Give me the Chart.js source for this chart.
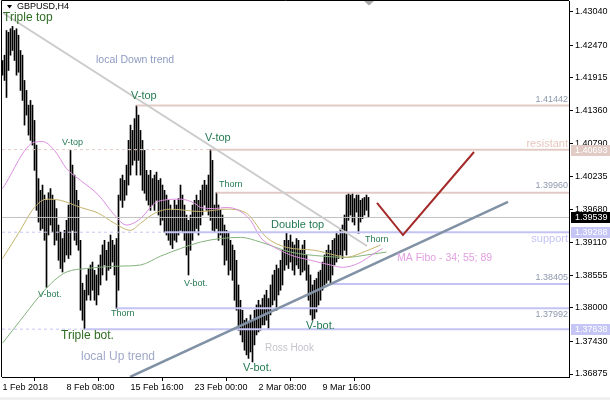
<!DOCTYPE html>
<html>
<head>
<meta charset="utf-8">
<script src="https://cdn.jsdelivr.net/npm/chart.js@4.4.1/dist/chart.umd.min.js"></script>
<style>
  html, body { margin: 0; padding: 0; background: #fff; }
  canvas { display: block; }
</style>
</head>
<body>
<canvas id="chart" width="610" height="400"></canvas>
<script>
// GBPUSD H4 bars, bar 0 = 1 Feb 2018 00:00
var highs = [
  1.4221, 1.4230, 1.4272, 1.4269, 1.4275, 1.4279, 1.4272, 1.4275, 1.4264, 1.4238,
  1.4230, 1.4187, 1.4170, 1.4145, 1.4153, 1.4145, 1.4119, 1.4077, 1.4020, 1.4000,
  1.4009, 1.3992, 1.3983, 1.3996, 1.4003, 1.3992, 1.3983, 1.3969, 1.3941, 1.3929,
  1.3918, 1.3932, 1.3949, 1.3975, 1.4068, 1.4043, 1.4026, 1.4000, 1.3983, 1.3915,
  1.3842, 1.3830, 1.3856, 1.3867, 1.3873, 1.3878, 1.3864, 1.3856, 1.3873, 1.3890,
  1.3907, 1.3915, 1.3898, 1.3912, 1.3924, 1.3915, 1.3907, 1.3918, 1.3992, 1.4020,
  1.4026, 1.4017, 1.4043, 1.4085, 1.4111, 1.4102, 1.4122, 1.41442, 1.4128, 1.4102,
  1.4085, 1.4068, 1.4034, 1.4026, 1.4034, 1.4020, 1.4026, 1.4031, 1.4017, 1.4020,
  1.4009, 1.4000, 1.3992, 1.3983, 1.3975, 1.3966, 1.3983, 1.3975, 1.3986, 1.4009,
  1.3992, 1.3975, 1.3958, 1.3949, 1.3958, 1.3975, 1.3983, 1.3992, 1.3983, 1.4000,
  1.4009, 1.4017, 1.4009, 1.4026, 1.40693, 1.4051, 1.3975, 1.39960, 1.3975, 1.3966,
  1.3958, 1.3941, 1.3932, 1.3929, 1.3915, 1.3907, 1.3898, 1.3881, 1.3839, 1.3813,
  1.3796, 1.3779, 1.3782, 1.3776, 1.3788, 1.3779, 1.3796, 1.3805, 1.3813, 1.3805,
  1.3816, 1.3822, 1.3830, 1.3816, 1.3839, 1.3856, 1.3864, 1.3873, 1.3867, 1.3881,
  1.3898, 1.3915, 1.3927, 1.3915, 1.3924, 1.3912, 1.3907, 1.3918, 1.3915, 1.3898,
  1.3907, 1.3915, 1.3890, 1.3873, 1.3856, 1.3839, 1.3847, 1.3850, 1.3861, 1.3864,
  1.3878, 1.3890, 1.3898, 1.3907, 1.3898, 1.3915, 1.3918, 1.3929, 1.3924, 1.3935,
  1.3941, 1.3958, 1.3992, 1.3995, 1.3992, 1.3996, 1.3986, 1.3992, 1.3992, 1.3983,
  1.3986, 1.3988, 1.3992, 1.3988
];
var lows = [
  1.4196, 1.4187, 1.4158, 1.4204, 1.4230, 1.4238, 1.4221, 1.4196, 1.4201, 1.4170,
  1.4153, 1.4111, 1.4128, 1.4094, 1.4085, 1.4077, 1.4034, 1.3966, 1.3946, 1.3932,
  1.3935, 1.3915, 1.3835, 1.3924, 1.3941, 1.3929, 1.3907, 1.3915, 1.3881, 1.3867,
  1.3861, 1.3878, 1.3890, 1.3884, 1.3890, 1.3932, 1.3915, 1.3907, 1.3898, 1.3796,
  1.3779, 1.37638, 1.3813, 1.3822, 1.3813, 1.3830, 1.3813, 1.3805, 1.3822, 1.3839,
  1.3856, 1.3873, 1.3847, 1.3864, 1.3867, 1.3878, 1.3856, 1.37992, 1.3830, 1.3983,
  1.3971, 1.3983, 1.3992, 1.4009, 1.4026, 1.4043, 1.4051, 1.4026, 1.4051, 1.4026,
  1.4000, 1.3995, 1.3983, 1.3975, 1.3966, 1.3975, 1.3966, 1.3983, 1.3958, 1.3941,
  1.3949, 1.39288, 1.3924, 1.3915, 1.3907, 1.3901, 1.3915, 1.3912, 1.3924, 1.3932,
  1.3929, 1.3915, 1.3890, 1.3856, 1.3898, 1.3915, 1.3929, 1.3935, 1.3924, 1.3941,
  1.3958, 1.3975, 1.3966, 1.3958, 1.3949, 1.3932, 1.3929, 1.3935, 1.3915, 1.3924,
  1.3907, 1.3873, 1.3881, 1.3856, 1.3864, 1.3847, 1.3813, 1.3796, 1.3762, 1.3754,
  1.3742, 1.3728, 1.3720, 1.3714, 1.3725, 1.3708, 1.3737, 1.3754, 1.3759, 1.3762,
  1.3771, 1.3771, 1.3779, 1.3765, 1.3788, 1.3805, 1.3813, 1.3796, 1.3822, 1.3830,
  1.3839, 1.3864, 1.3873, 1.3867, 1.3878, 1.3864, 1.3856, 1.3873, 1.3867, 1.3856,
  1.3861, 1.3864, 1.3847, 1.3813, 1.3788, 1.3779, 1.3782, 1.3793, 1.3805, 1.3813,
  1.3830, 1.3839, 1.3842, 1.3847, 1.38405, 1.3856, 1.3873, 1.3878, 1.3884, 1.3890,
  1.3884, 1.3898, 1.3890, 1.3949, 1.3958, 1.3946, 1.3941, 1.3963, 1.3927, 1.3946,
  1.3952, 1.3958, 1.3966, 1.3954
];

var xTickBars = [0, 32, 64, 96, 128, 160];
var xTickLabels = ["1 Feb 2018", "8 Feb 08:00", "15 Feb 16:00", "23 Feb 00:00", "2 Mar 08:00", "9 Mar 16:00"];
var yTicks = [1.43040, 1.42470, 1.41915, 1.41360, 1.40790, 1.40235, 1.39680, 1.39110, 1.38555, 1.38000, 1.37430, 1.36875];

var ma34Bars = [0, 16, 20, 26, 32, 39, 48, 56, 62, 69, 76, 80, 89, 96, 99, 106, 112, 118, 124, 129, 136, 144, 154, 164, 170, 178, 186, 190];
var ma34 = [1.4003, 1.4082, 1.4083, 1.4068, 1.4037, 1.4017, 1.3992, 1.3958, 1.3941, 1.3952, 1.3978, 1.3983, 1.3985, 1.3978,
  1.3971, 1.3969, 1.3971, 1.3966, 1.3949, 1.3920, 1.3903, 1.3890, 1.3881, 1.3873, 1.3869, 1.3876, 1.3893, 1.3901];
var ma55Bars = [0, 8, 16, 22, 29, 39, 48, 56, 64, 69, 76, 84, 99, 112, 122, 132, 142, 156, 166, 172, 179, 189];
var ma55 = [1.3884, 1.3927, 1.3971, 1.3985, 1.3983, 1.3971, 1.3961, 1.3944, 1.3932, 1.3944, 1.3961, 1.3968, 1.3964, 1.3968,
  1.3961, 1.3920, 1.3903, 1.3898, 1.3890, 1.3886, 1.3893, 1.3907];
var ma89Bars = [0, 9, 18, 26, 32, 42, 58, 69, 79, 89, 99, 109, 119, 129, 144, 160, 172, 182, 192];
var ma89 = [1.3740, 1.3779, 1.3818, 1.3847, 1.3861, 1.3867, 1.3871, 1.3873, 1.3888, 1.3901, 1.3912, 1.3918, 1.3920, 1.3912,
  1.3895, 1.3888, 1.3886, 1.3890, 1.3895];

var resistLevels = [1.41442, 1.40693, 1.39960];
var resistFrom = [67, 104, 107];
var supportLevels = [1.39288, 1.38405, 1.37992, 1.37638];
var supportFrom = [81, 164, 57, 41];
var lastPrice = 1.39539;

// [bar, price]
var downTrend = [[0.25, 1.43018], [182.25, 1.39053]];
var upTrend = [[63.75, 1.36824], [252.75, 1.39802]];
var forecast = [[187.25, 1.39785], [200.25, 1.39240], [235.75, 1.40653]];

var xMin = -0.25, xMax = 283.25;
var yMin = 1.36824, yMax = 1.43222;

var notes = [
  { text: "Triple top", bar: 0.25, price: 1.42933, kind: "big" },
  { text: "local Down trend", bar: 46.75, price: 1.42218, kind: "trend" },
  { text: "V-top", bar: 64.25, price: 1.41605, kind: "mid" },
  { text: "V-top", bar: 29.75, price: 1.40806, kind: "small" },
  { text: "V-top", bar: 101.25, price: 1.40891, kind: "mid" },
  { text: "Thorn", bar: 108.25, price: 1.40091, kind: "small" },
  { text: "Double top", bar: 134.25, price: 1.39410, kind: "mid" },
  { text: "Thorn", bar: 181.25, price: 1.39155, kind: "small" },
  { text: "MA Fibo - 34; 55; 89", bar: 197.25, price: 1.38849, kind: "ma" },
  { text: "V-bot.", bar: 17.75, price: 1.38236, kind: "small" },
  { text: "V-bot.", bar: 90.75, price: 1.38423, kind: "small" },
  { text: "Thorn", bar: 54.25, price: 1.37896, kind: "small" },
  { text: "Triple bot.", bar: 29.25, price: 1.37522, kind: "big" },
  { text: "V-bot.", bar: 151.75, price: 1.37692, kind: "mid" },
  { text: "local Up trend", bar: 39.25, price: 1.37164, kind: "trendBig" },
  { text: "Ross Hook", bar: 131.25, price: 1.37317, kind: "ross" },
  { text: "V-bot.", bar: 120.25, price: 1.36977, kind: "mid" }
];

var noteStyle = {
  big: { font: "12px", color: "#2f6d22" },
  mid: { font: "11px", color: "#247a52" },
  small: { font: "9px", color: "#247a52" },
  trend: { font: "10.5px", color: "#8e9cc2" },
  trendBig: { font: "12px", color: "#a0a8c8" },
  ma: { font: "10.5px", color: "#e2a0e2" },
  ross: { font: "10px", color: "#c4c4cc" }
};

var FONT = "'Liberation Sans', Arial, sans-serif";
var ROSY = "#e2cbc4";
var LAV = "#c4c4f4";

function pts(list) {
  return list.map(function(p) { return { x: p[0], y: p[1] }; });
}
function maData(bars, vals) {
  return bars.map(function(b, i) { return { x: b, y: vals[i] }; });
}
function levelSet(price, from, to, color, width, dash) {
  return {
    type: "line",
    data: [{ x: from, y: price }, { x: to, y: price }],
    borderColor: color, borderWidth: width, borderDash: dash || [],
    pointRadius: 0, order: 1
  };
}

var datasets = [];
datasets.push({
  type: "bar",
  data: lows.map(function(lo, i) { return { x: i, y: [lo, highs[i]] }; }),
  backgroundColor: "#000", borderWidth: 0, barThickness: 1, grouped: false, order: 3
});
[[ma34Bars, ma34, "#dd8ee0"], [ma55Bars, ma55, "#c4b46c"], [ma89Bars, ma89, "#84b47c"]].forEach(function(m) {
  datasets.push({
    type: "line", data: maData(m[0], m[1]), borderColor: m[2], borderWidth: 1,
    pointRadius: 0, cubicInterpolationMode: "monotone", order: 2
  });
});
datasets.push(levelSet(lastPrice, xMin, xMax, "#c0c0c0", 1));
resistLevels.forEach(function(p, i) { datasets.push(levelSet(p, resistFrom[i], xMax, ROSY, 2)); });
supportLevels.forEach(function(p, i) { datasets.push(levelSet(p, supportFrom[i], xMax, LAV, 2)); });
// dashed continuation to the left of the anchor bar
datasets.push(levelSet(resistLevels[1], xMin, resistFrom[1], ROSY, 1, [3, 3]));
datasets.push(levelSet(supportLevels[0], xMin, supportFrom[0], LAV, 1, [3, 3]));
datasets.push(levelSet(supportLevels[3], xMin, supportFrom[3], LAV, 1, [3, 3]));

datasets.push({ type: "line", data: pts(downTrend), borderColor: "#cbcbcb", borderWidth: 2, pointRadius: 0, order: 0 });
datasets.push({ type: "line", data: pts(upTrend), borderColor: "#8292a6", borderWidth: 2.5, pointRadius: 0, order: 0 });
datasets.push({ type: "line", data: pts(forecast), borderColor: "#a52a2a", borderWidth: 2, pointRadius: 0, order: 0 });

var decor = {
  id: "decor",
  beforeDraw: function(chart) {
    var ctx = chart.ctx;
    ctx.save();
    ctx.fillStyle = "#fff";
    ctx.fillRect(0, 0, chart.width, chart.height);
    ctx.fillStyle = "#f0f0f0";
    ctx.fillRect(0, 397, chart.width, 3);
    ctx.restore();
  },
  afterDatasetsDraw: function(chart) {
    var ctx = chart.ctx, xs = chart.scales.x, ys = chart.scales.y, a = chart.chartArea;
    ctx.save();
    ctx.textBaseline = "middle";
    ctx.textAlign = "left";
    notes.forEach(function(n) {
      var st = noteStyle[n.kind];
      ctx.font = st.font + " " + FONT;
      ctx.fillStyle = st.color;
      ctx.fillText(n.text, xs.getPixelForValue(n.bar), ys.getPixelForValue(n.price));
    });
    // tags at the right end of the level lines
    ctx.textAlign = "right";
    var tags = [
      [resistLevels[0], resistLevels[0].toFixed(5), -6, "#8d98ad", "9px"],
      [resistLevels[2], resistLevels[2].toFixed(5), -7, "#8d98ad", "9px"],
      [supportLevels[1], supportLevels[1].toFixed(5), -7, "#8d98ad", "9px"],
      [supportLevels[2], supportLevels[2].toFixed(5), 6, "#8d98ad", "9px"],
      [resistLevels[1], "resistant", -6, "#e6c6bc", "11px"],
      [supportLevels[0], "support", 7, LAV, "11px"]
    ];
    tags.forEach(function(t) {
      ctx.font = t[4] + " " + FONT;
      ctx.fillStyle = t[3];
      ctx.fillText(t[1], a.right - 1, ys.getPixelForValue(t[0]) + t[2]);
    });
    ctx.restore();
  },
  afterDraw: function(chart) {
    var ctx = chart.ctx, xs = chart.scales.x, ys = chart.scales.y, a = chart.chartArea;
    ctx.save();
    // frame left and top
    ctx.strokeStyle = "#000";
    ctx.lineWidth = 1;
    ctx.beginPath();
    ctx.moveTo(1.5, a.bottom);
    ctx.lineTo(1.5, 0.5);
    ctx.lineTo(a.right, 0.5);
    ctx.stroke();
    // price boxes on the axis
    var boxes = [[resistLevels[1], ROSY], [lastPrice, "#000"], [supportLevels[0], "#c6c6f6"], [supportLevels[3], "#c6c6f6"]];
    ctx.font = "9px " + FONT;
    ctx.textBaseline = "middle";
    ctx.textAlign = "left";
    boxes.forEach(function(b) {
      var y = Math.round(ys.getPixelForValue(b[0]));
      ctx.fillStyle = b[1];
      ctx.fillRect(a.right + 2, y - 5, chart.width - a.right - 2, 11);
      ctx.fillStyle = "#fff";
      ctx.fillText(b[0].toFixed(5), a.right + 6, y + 0.5);
    });
    // symbol header
    ctx.fillStyle = "#000";
    ctx.beginPath();
    ctx.moveTo(7, 5); ctx.lineTo(12, 5); ctx.lineTo(9.5, 8.5); ctx.closePath();
    ctx.fill();
    ctx.fillText("GBPUSD,H4", 17, 7);
    // shift marker above last bar
    var sx = Math.round(xs.getPixelForValue(highs.length - 1));
    ctx.fillStyle = "#a8a8a8";
    ctx.beginPath();
    ctx.moveTo(sx - 5, 1); ctx.lineTo(sx + 5, 1); ctx.lineTo(sx, 5.5); ctx.closePath();
    ctx.fill();
    ctx.restore();
  }
};

Chart.defaults.font.family = FONT;
Chart.defaults.font.size = 9;
Chart.defaults.color = "#000";

new Chart(document.getElementById("chart").getContext("2d"), {
  type: "bar",
  data: { datasets: datasets },
  options: {
    responsive: false,
    devicePixelRatio: 1,
    animation: false,
    events: [],
    layout: { padding: { left: 2, top: 1, right: 0, bottom: 0 }, autoPadding: false },
    plugins: { legend: { display: false }, tooltip: { enabled: false } },
    scales: {
      x: {
        type: "linear", min: xMin, max: xMax, offset: false,
        afterBuildTicks: function(s) { s.ticks = xTickBars.map(function(v) { return { value: v }; }); },
        afterFit: function(s) { s.height = 23; s.paddingLeft = 0; s.paddingRight = 0; },
        ticks: {
          autoSkip: false, maxRotation: 0, minRotation: 0, align: "start", padding: 1, color: "#000",
          callback: function(v, i) { return xTickLabels[i]; }
        },
        grid: { drawOnChartArea: false, drawTicks: true, tickLength: 4, color: "#000" },
        border: { display: true, color: "#000" }
      },
      y: {
        position: "right", min: yMin, max: yMax,
        afterBuildTicks: function(s) { s.ticks = yTicks.map(function(v) { return { value: v }; }); },
        afterFit: function(s) { s.width = 41; s.paddingTop = 0; s.paddingBottom = 0; },
        ticks: { padding: 2, color: "#000", callback: function(v) { return v.toFixed(5); } },
        grid: { drawOnChartArea: false, drawTicks: true, tickLength: 4, color: "#000" },
        border: { display: true, color: "#000" }
      }
    }
  },
  plugins: [decor]
});
</script>
</body>
</html>
